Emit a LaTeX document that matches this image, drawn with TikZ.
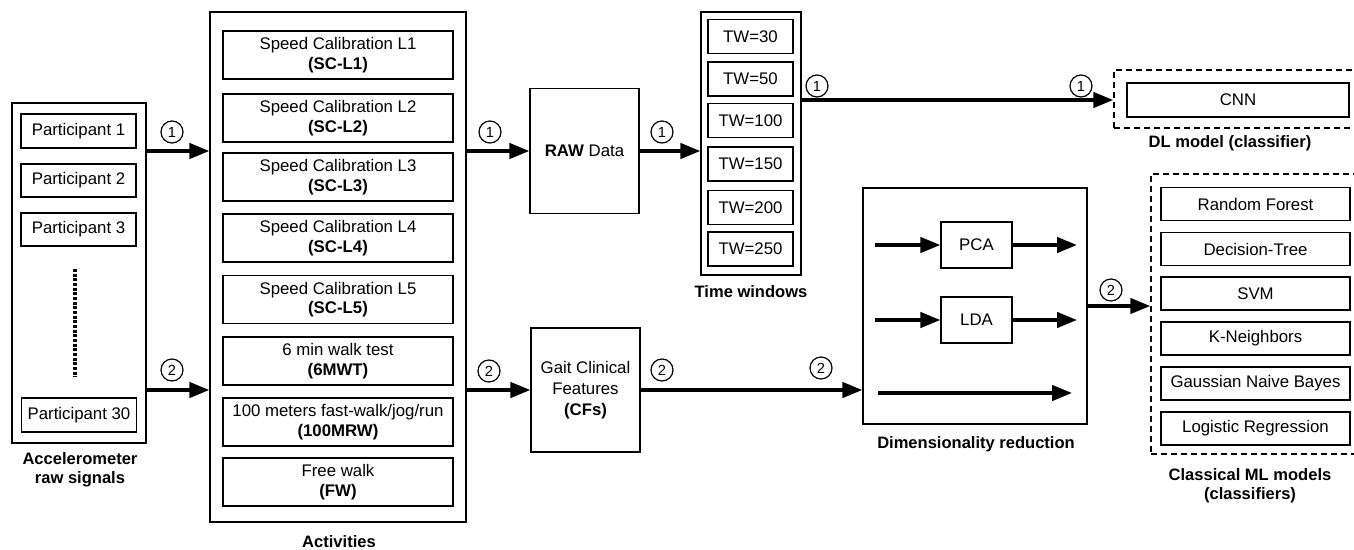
\documentclass[tikz,border=0pt]{standalone}
\usepackage{fontspec}
\setmainfont{Liberation Sans}
\usetikzlibrary{arrows.meta,calc}
\begin{document}
\begin{tikzpicture}[x=0.75pt,y=-0.75pt,
  txt/.style={font=\fontsize{12.6}{14.5}\selectfont},
  box/.style={draw,line width=1pt,inner sep=0pt,align=center,txt},
  sz/.style 2 args={minimum width=#1*0.75pt,minimum height=#2*0.75pt},
  lbl/.style={align=center,font=\fontsize{12.4}{14.3}\selectfont\bfseries},
  num/.style={draw,circle,line width=0.9pt,minimum size=16.5pt,inner sep=0pt,font=\fontsize{11}{12}\selectfont},
  arr/.style={line width=2.6pt,-{Triangle[length=15pt,width=11.5pt]}},
  dbox/.style={draw,line width=1.1pt,dash pattern=on 4.5pt off 3pt},
]
\useasboundingbox (0,0) rectangle (1354,550);
\clip (0,0) rectangle (1354,550);

% Accelerometer raw signals
\node[box,sz={134}{340}] (acc) at (79,273) {};
\node[box,sz={115}{34}] (p1) at (78.5,131) {Participant 1};
\node[box,sz={115}{33}] (p2) at (78.5,180.5) {Participant 2};
\node[box,sz={115}{33}] (p3) at (78.5,229.5) {Participant 3};
\node[box,sz={115}{34}] (p30) at (79,415) {Participant 30};
\coordinate (dtop) at (75,269);
\coordinate (dbot) at (75,377);
\draw[line width=2.8pt,dash pattern=on 2.2pt off 1.3pt] (dtop) -- (dbot);
\node[lbl] (acclbl) at (80,470) {Accelerometer\\raw signals};

% Activities
\node[box,sz={256}{510}] (act) at (338,267) {};
\node[box,sz={230}{48}] (a1) at (338,55) {Speed Calibration L1\\\textbf{(SC-L1)}};
\node[box,sz={230}{48}] (a2) at (338,118) {Speed Calibration L2\\\textbf{(SC-L2)}};
\node[box,sz={230}{48}] (a3) at (338,177) {Speed Calibration L3\\\textbf{(SC-L3)}};
\node[box,sz={230}{48}] (a4) at (338,238) {Speed Calibration L4\\\textbf{(SC-L4)}};
\node[box,sz={230}{48}] (a5) at (338,299.5) {Speed Calibration L5\\\textbf{(SC-L5)}};
\node[box,sz={230}{48}] (a6) at (338,361) {6 min walk test\\\textbf{(6MWT)}};
\node[box,sz={230}{48}] (a7) at (338,422) {100 meters fast-walk/jog/run\\\textbf{(100MRW)}};
\node[box,sz={230}{48}] (a8) at (338,482) {Free walk\\\textbf{(FW)}};
\node[lbl] (actlbl) at (339,542) {Activities};

% RAW data and CFs
\node[box,sz={109}{125}] (raw) at (584.5,151) {\textbf{RAW} Data};
\node[box,sz={109}{124},font=\fontsize{12.6}{15.8}\selectfont] (cfs) at (585.5,390) {Gait Clinical\\Features\\\textbf{(CFs)}};

% Time windows
\node[box,sz={100}{263}] (tw) at (751,143.5) {};
\node[box,sz={85}{34}] (t1) at (750.5,36.5) {TW=30};
\node[box,sz={85}{34}] (t2) at (750.5,79) {TW=50};
\node[box,sz={85}{34}] (t3) at (750.5,120.5) {TW=100};
\node[box,sz={85}{34}] (t4) at (750.5,164) {TW=150};
\node[box,sz={85}{34}] (t5) at (750.5,207.5) {TW=200};
\node[box,sz={85}{34}] (t6) at (750.5,249) {TW=250};
\node[lbl] (twlbl) at (751,292) {Time windows};

% DL model
\node[dbox,sz={250}{58},inner sep=0pt] (dl) at (1239,99) {};
\node[box,sz={222}{34}] (cnn) at (1238,100) {CNN};
\node[lbl] (dllbl) at (1230,143) {DL model (classifier)};

% Dimensionality reduction
\node[box,sz={224}{236}] (dr) at (975,306) {};
\node[box,sz={71}{46}] (pca) at (976.5,245) {PCA};
\node[box,sz={71}{46}] (lda) at (976.5,320) {LDA};
\node[lbl] (drlbl) at (976,444) {Dimensionality reduction};
\coordinate (pcain) at (875,245);
\coordinate (pcaout) at (1077,245);
\coordinate (ldain) at (875,320);
\coordinate (ldaout) at (1077,320);
\coordinate (bypin) at (878,393);
\coordinate (bypout) at (1072,393);
\draw[arr] (pcain) -- (pca.west);
\draw[arr] (pca.east) -- (pcaout);
\draw[arr] (ldain) -- (lda.west);
\draw[arr] (lda.east) -- (ldaout);
\draw[arr] (bypin) -- (bypout);

% Classical ML
\node[dbox,sz={214}{280},inner sep=0pt] (ml) at (1258,314) {};
\node[box,sz={189}{33}] (m1) at (1255.5,204) {Random Forest};
\node[box,sz={189}{33}] (m2) at (1255.5,249) {Decision-Tree};
\node[box,sz={189}{33}] (m3) at (1255.5,293.5) {SVM};
\node[box,sz={189}{33}] (m4) at (1255.5,338.5) {K-Neighbors};
\node[box,sz={189}{33}] (m5) at (1255.5,383.5) {Gaussian Naive Bayes};
\node[box,sz={189}{33}] (m6) at (1255.5,428.5) {Logistic Regression};
\node[lbl] (mllbl) at (1250,486) {Classical ML models\\(classifiers)};

% Main connectors
\draw[arr] (acc.east |- raw.west) -- (act.west |- raw.west);
\draw[arr] (acc.east |- cfs.west) -- (act.west |- cfs.west);
\draw[arr] (act.east |- raw.west) -- (raw.west);
\draw[arr] (act.east |- cfs.west) -- (cfs.west);
\draw[arr] (raw.east) -- (tw.west |- raw.east);
\draw[arr] (tw.east |- cnn.west) -- (dl.west |- cnn.west);
\draw[arr] (cfs.east) -- (dr.west |- cfs.east);
\draw[arr] (dr.east) -- (ml.west |- dr.east);

% Circled numbers
\node[num] (n1) at (172,132) {1};
\node[num] (n2) at (172,370) {2};
\node[num] (n3) at (490,132) {1};
\node[num] (n4) at (489,371) {2};
\node[num] (n5) at (662,132) {1};
\node[num] (n6) at (662,370) {2};
\node[num] (n7) at (821,368) {2};
\node[num] (n8) at (817,86) {1};
\node[num] (n9) at (1081,86) {1};
\node[num] (n10) at (1111,290) {2};
\end{tikzpicture}
\end{document}
